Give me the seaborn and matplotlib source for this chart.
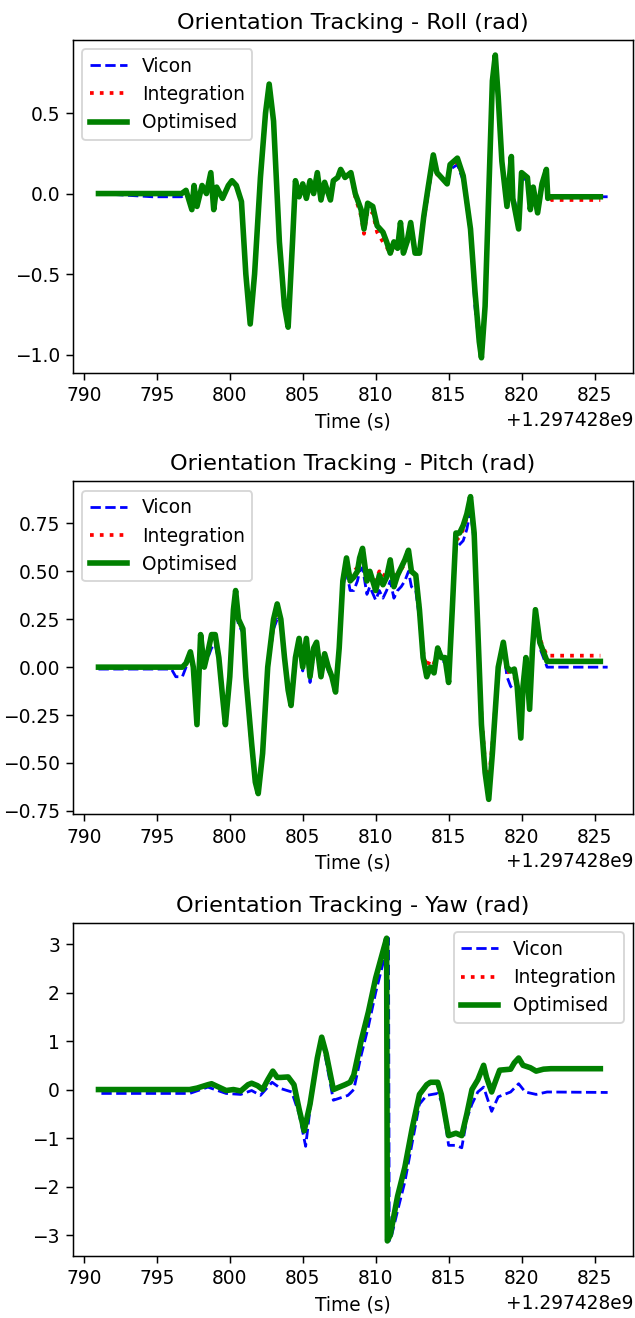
import numpy as np
import pandas as pd
import matplotlib
matplotlib.use("Agg")
import matplotlib.pyplot as plt
import seaborn as sns

T0 = 1297428000.0
nan = np.nan

# ---------------- Roll ----------------
roll_t = [791.0, 794.7, 796.7, 797.0, 797.4, 797.55, 797.75, 798.1, 798.4, 798.7,
          798.9, 799.1, 799.5, 799.9, 800.15, 800.45, 800.8, 801.1, 801.4, 801.7,
          802.1, 802.45, 802.7, 803.0, 803.4, 803.75, 804.0, 804.3, 804.5, 804.75,
          805.0, 805.25, 805.5, 805.75, 806.0, 806.25, 806.5, 806.9, 807.1, 807.4,
          807.6, 807.9, 808.3, 808.6, 809.0, 809.2, 809.45, 809.8, 810.1, 810.5,
          810.75, 811.0, 811.25, 811.5, 811.7, 811.9, 812.15, 812.4, 812.7, 813.0,
          813.3, 813.6, 813.95, 814.2, 814.5, 814.9, 815.1, 815.6, 816.0, 816.5,
          816.8, 817.1, 817.25, 817.5, 817.75, 818.0, 818.2, 818.4, 818.65, 819.0,
          819.3, 819.4, 819.8, 820.0, 820.4, 820.6, 820.8, 821.1, 821.4, 821.7,
          821.8, 822.0, 825.4, 825.9]
roll_opt = [0.0, 0.0, 0.0, 0.02, -0.1, 0.05, -0.08, 0.05, 0.0, 0.13,
            -0.1, 0.04, -0.03, 0.05, 0.08, 0.05, -0.05, -0.5, -0.81, -0.5,
            0.1, 0.5, 0.68, 0.45, -0.3, -0.7, -0.83, -0.3, 0.08, -0.02,
            0.06, -0.03, 0.08, 0.0, 0.13, -0.04, 0.07, -0.04, 0.08, 0.1,
            0.15, 0.1, 0.13, 0.0, -0.1, -0.22, -0.06, -0.08, -0.2, -0.24,
            -0.3, -0.37, -0.3, -0.34, -0.18, -0.37, -0.3, -0.18, -0.37, -0.37,
            -0.14, 0.04, 0.24, 0.13, 0.1, 0.06, 0.18, 0.22, 0.11, -0.22,
            -0.6, -0.92, -1.02, -0.7, 0.0, 0.7, 0.86, 0.6, 0.2, -0.08,
            0.23, -0.03, -0.22, 0.13, 0.1, -0.1, 0.04, -0.12, 0.06, 0.15,
            -0.03, -0.02, -0.02, nan]
roll_vicon = [0.0, -0.02, -0.02, 0.0, -0.08, 0.04, -0.06, 0.04, 0.0, 0.11,
              -0.08, 0.03, -0.03, 0.05, 0.07, 0.05, -0.05, -0.5, -0.8, -0.5,
              0.1, 0.48, 0.62, 0.45, -0.3, -0.7, -0.8, -0.3, 0.07, -0.02,
              0.05, -0.03, 0.07, 0.0, 0.12, -0.03, 0.06, -0.04, 0.07, 0.1,
              0.14, 0.1, 0.12, 0.0, -0.1, -0.2, -0.08, -0.1, -0.2, -0.26,
              -0.3, -0.35, -0.3, -0.33, -0.2, -0.35, -0.3, -0.2, -0.36, -0.35,
              -0.18, 0.0, 0.2, 0.12, 0.1, 0.06, 0.15, 0.18, 0.08, -0.25,
              -0.7, -0.95, -1.0, -0.72, -0.05, 0.6, 0.8, 0.6, 0.2, -0.06,
              0.2, 0.0, -0.15, 0.1, 0.08, -0.08, 0.02, -0.08, 0.03, 0.1,
              -0.02, -0.02, -0.02, -0.02]
roll_integ = [0.0, 0.0, 0.0, 0.02, -0.1, 0.05, -0.08, 0.05, 0.0, 0.12,
              -0.1, 0.04, -0.03, 0.05, 0.08, 0.05, -0.05, -0.5, -0.8, -0.5,
              0.1, 0.5, 0.66, 0.45, -0.3, -0.7, -0.82, -0.3, 0.08, -0.02,
              0.06, -0.03, 0.08, 0.0, 0.13, -0.04, 0.07, -0.04, 0.08, 0.1,
              0.15, 0.1, 0.12, -0.02, -0.14, -0.25, -0.1, -0.12, -0.24, -0.3,
              -0.33, -0.38, -0.32, -0.35, -0.2, -0.37, -0.32, -0.2, -0.37, -0.36,
              -0.16, 0.02, 0.22, 0.12, 0.1, 0.06, 0.17, 0.2, 0.1, -0.23,
              -0.62, -0.93, -1.0, -0.7, 0.0, 0.68, 0.84, 0.6, 0.2, -0.08,
              0.21, -0.02, -0.2, 0.12, 0.09, -0.1, 0.03, -0.1, 0.04, 0.12,
              -0.05, -0.04, -0.04, nan]

# ---------------- Pitch ----------------
pitch_t = [791.0, 796.0, 796.3, 796.75, 797.0, 797.3, 797.5, 797.75, 798.0, 798.25,
           798.5, 798.75, 799.0, 799.25, 799.5, 799.7, 800.0, 800.25, 800.4, 800.6,
           800.9, 801.1, 801.5, 801.75, 801.95, 802.25, 802.6, 803.0, 803.25, 803.5,
           803.75, 804.0, 804.2, 804.5, 804.75, 805.0, 805.25, 805.5, 805.75, 805.95,
           806.25, 806.5, 806.75, 807.0, 807.25, 807.5, 807.75, 808.0, 808.25, 808.5,
           808.75, 808.9, 809.1, 809.4, 809.6, 810.0, 810.25, 810.5, 810.75, 811.0,
           811.25, 811.5, 811.75, 812.0, 812.25, 812.45, 812.75, 813.0, 813.25, 813.5,
           813.75, 814.0, 814.25, 814.5, 814.75, 815.0, 815.25, 815.5, 815.75, 816.0,
           816.25, 816.5, 816.75, 817.0, 817.25, 817.5, 817.75, 818.0, 818.4, 818.75,
           819.0, 819.25, 819.5, 819.7, 819.95, 820.1, 820.3, 820.55, 820.75, 820.95,
           821.25, 821.5, 821.75, 825.4, 825.9]
pitch_opt = [0.0, 0.0, 0.0, 0.0, 0.02, 0.08, 0.0, -0.3, 0.17, 0.0,
             0.08, 0.17, 0.17, 0.05, -0.15, -0.3, -0.05, 0.3, 0.4, 0.25,
             0.2, -0.05, -0.4, -0.6, -0.66, -0.45, 0.0, 0.25, 0.33, 0.25,
             0.05, -0.12, -0.2, 0.05, 0.15, 0.0, 0.15, -0.05, 0.1, 0.13,
             -0.05, 0.07, 0.0, -0.05, -0.13, 0.1, 0.45, 0.57, 0.45, 0.47,
             0.5, 0.57, 0.62, 0.45, 0.5, 0.4, 0.48, 0.43, 0.47, 0.56,
             0.42, 0.48, 0.52, 0.56, 0.61, 0.5, 0.48, 0.3, 0.05, -0.05,
             0.0, -0.03, 0.1, 0.05, 0.05, -0.08, 0.3, 0.7, 0.7, 0.74,
             0.8, 0.89, 0.7, 0.2, -0.3, -0.55, -0.69, -0.45, 0.0, 0.13,
             0.0, -0.02, -0.01, -0.1, -0.37, -0.1, 0.05, -0.22, 0.1, 0.3,
             0.13, 0.08, 0.03, 0.03, nan]
pitch_vicon = [-0.01, -0.01, -0.05, -0.05, 0.0, 0.06, 0.0, -0.28, 0.12, 0.02,
               0.05, 0.1, 0.12, 0.03, -0.15, -0.28, -0.05, 0.25, 0.3, 0.22,
               0.18, -0.05, -0.4, -0.58, -0.64, -0.45, 0.0, 0.2, 0.25, 0.22,
               0.03, -0.1, -0.15, 0.03, 0.12, -0.02, 0.1, -0.08, 0.06, 0.1,
               -0.06, 0.05, -0.02, -0.05, -0.1, 0.1, 0.42, 0.5, 0.4, 0.4,
               0.45, 0.5, 0.52, 0.38, 0.42, 0.35, 0.4, 0.36, 0.4, 0.45,
               0.36, 0.4, 0.42, 0.45, 0.5, 0.42, 0.4, 0.25, 0.03, -0.05,
               0.0, -0.03, 0.07, 0.03, 0.03, -0.08, 0.28, 0.62, 0.64, 0.66,
               0.72, 0.82, 0.65, 0.2, -0.3, -0.55, -0.67, -0.45, 0.0, 0.1,
               -0.05, -0.1, -0.12, -0.12, -0.35, -0.1, 0.03, -0.2, 0.08, 0.25,
               0.1, 0.05, 0.0, 0.0, 0.0]
pitch_integ = [0.0, 0.0, 0.0, 0.0, 0.02, 0.07, 0.0, -0.28, 0.15, 0.0,
               0.07, 0.15, 0.16, 0.05, -0.15, -0.29, -0.05, 0.28, 0.36, 0.24,
               0.2, -0.05, -0.42, -0.58, -0.62, -0.45, 0.0, 0.22, 0.3, 0.24,
               0.05, -0.1, -0.18, 0.05, 0.14, 0.0, 0.13, -0.05, 0.09, 0.12,
               -0.04, 0.06, 0.0, -0.04, -0.12, 0.1, 0.44, 0.54, 0.48, 0.5,
               0.52, 0.55, 0.58, 0.48, 0.5, 0.45, 0.5, 0.47, 0.5, 0.53,
               0.46, 0.49, 0.51, 0.54, 0.57, 0.5, 0.48, 0.32, 0.08, 0.0,
               0.04, 0.02, 0.1, 0.06, 0.06, -0.05, 0.3, 0.66, 0.68, 0.72,
               0.78, 0.85, 0.68, 0.2, -0.25, -0.5, -0.6, -0.4, 0.0, 0.12,
               0.0, -0.05, -0.05, -0.1, -0.33, -0.08, 0.05, -0.2, 0.1, 0.28,
               0.15, 0.1, 0.06, 0.06, nan]

# ---------------- Yaw ----------------
yaw_t = [791.0, 797.25, 797.75, 798.5, 798.75, 799.25, 799.75, 800.25, 800.75, 801.25,
         801.5, 801.9, 802.25, 802.6, 802.95, 803.25, 803.5, 804.0, 804.4, 804.75,
         805.1, 805.5, 806.0, 806.3, 806.6, 806.9, 807.1, 807.5, 807.9, 808.25,
         808.5, 809.0, 809.5, 810.0, 810.5, 810.75, 810.8, 811.0, 811.5, 812.0,
         812.5, 813.0, 813.5, 813.75, 814.25, 814.5, 815.0, 815.5, 815.9, 816.25,
         816.6, 817.0, 817.4, 817.6, 817.95, 818.25, 818.5, 819.25, 819.5, 819.8,
         820.1, 820.6, 821.0, 821.5, 822.0, 825.4]
yaw_opt = [0.0, 0.0, 0.03, 0.1, 0.12, 0.05, -0.02, 0.0, -0.03, 0.1,
           0.13, 0.08, 0.0, 0.2, 0.38, 0.25, 0.25, 0.26, 0.1, -0.4,
           -0.85, -0.3, 0.65, 1.08, 0.75, 0.3, 0.0, 0.05, 0.1, 0.15,
           0.3, 1.0, 1.6, 2.3, 2.85, 3.12, -3.12, -3.0, -2.2, -1.6,
           -0.8, -0.1, 0.1, 0.15, 0.15, -0.1, -0.95, -0.9, -0.95, -0.5,
           0.0, 0.2, 0.5, 0.25, -0.05, 0.2, 0.4, 0.42, 0.55, 0.65,
           0.5, 0.45, 0.38, 0.42, 0.43, 0.43]
yaw_integ = [0.0, 0.0, 0.03, 0.1, 0.12, 0.05, -0.02, 0.0, -0.03, 0.1,
             0.13, 0.08, 0.0, 0.2, 0.37, 0.25, 0.25, 0.25, 0.1, -0.4,
             -0.85, -0.3, 0.65, 1.07, 0.75, 0.3, 0.0, 0.05, 0.1, 0.15,
             0.3, 1.0, 1.6, 2.3, 2.85, 3.12, -3.12, -3.0, -2.2, -1.6,
             -0.8, -0.1, 0.1, 0.15, 0.15, -0.1, -0.95, -0.9, -0.95, -0.5,
             0.0, 0.2, 0.5, 0.25, -0.05, 0.2, 0.4, 0.42, 0.55, 0.65,
             0.5, 0.45, 0.38, 0.42, 0.43, 0.43]
yaw_vicon_t = [791.2, 797.25, 798.5, 799.75, 800.75, 801.5, 802.1, 802.9, 803.5, 804.25,
               804.75, 805.2, 805.5, 806.0, 806.3, 806.6, 807.1, 807.5, 808.1, 808.5,
               809.0, 809.5, 810.0, 810.5, 810.88, 810.93, 811.1, 811.5, 812.0, 812.5,
               813.0, 813.5, 814.25, 814.6, 815.0, 815.5, 815.9, 816.25, 816.6, 817.0,
               817.4, 817.95, 818.4, 819.25, 819.8, 820.25, 821.0, 821.75, 825.9]
yaw_vicon = [-0.08, -0.08, 0.05, -0.08, -0.1, -0.02, -0.12, 0.15, 0.02, -0.05,
             -0.5, -1.17, -0.4, 0.6, 1.05, 0.6, -0.22, -0.18, -0.12, 0.0,
             0.7, 1.3, 2.0, 2.6, 3.12, -3.12, -3.0, -2.5, -1.9, -1.1,
             -0.3, -0.12, -0.08, -0.3, -1.15, -1.15, -1.2, -0.6, -0.3, -0.05,
             0.05, -0.45, -0.15, -0.05, 0.12, -0.05, -0.1, -0.05, -0.06]

panels = [
    ("Orientation Tracking - Roll (rad)", roll_t, roll_vicon, roll_t, roll_integ, roll_t, roll_opt, "upper left"),
    ("Orientation Tracking - Pitch (rad)", pitch_t, pitch_vicon, pitch_t, pitch_integ, pitch_t, pitch_opt, "upper left"),
    ("Orientation Tracking - Yaw (rad)", yaw_vicon_t, yaw_vicon, yaw_t, yaw_integ, yaw_t, yaw_opt, "upper right"),
]

DPI = 134
fig, axes = plt.subplots(3, 1, figsize=(635 / DPI, 1318 / DPI), dpi=DPI)
fig.subplots_adjust(left=0.115, right=0.997, top=0.9697, bottom=0.047, hspace=0.326)

for ax, (title, tv, yv, ti, yi, to, yo, loc) in zip(axes, panels):
    dv = pd.DataFrame({"t": np.array(tv) + T0, "y": yv})
    di = pd.DataFrame({"t": np.array(ti) + T0, "y": yi})
    do = pd.DataFrame({"t": np.array(to) + T0, "y": yo})
    sns.lineplot(data=dv, x="t", y="y", ax=ax, color="b", linestyle="--", linewidth=1.5,
                 label="Vicon", estimator=None, sort=False)
    sns.lineplot(data=di, x="t", y="y", ax=ax, color="r", linestyle=":", linewidth=2,
                 label="Integration", estimator=None, sort=False)
    sns.lineplot(data=do, x="t", y="y", ax=ax, color="g", linestyle="-", linewidth=3,
                 label="Optimised", estimator=None, sort=False)
    ax.set_title(title, fontsize=12)
    ax.set_xlabel("Time (s)")
    ax.set_ylabel("")
    ax.legend(loc=loc)

axes[0].set_yticks([-1.0, -0.5, 0.0, 0.5])
axes[1].set_yticks([-0.75, -0.5, -0.25, 0.0, 0.25, 0.5, 0.75])
axes[2].set_yticks([-3, -2, -1, 0, 1, 2, 3])

fig.savefig("out.png", dpi=DPI)
